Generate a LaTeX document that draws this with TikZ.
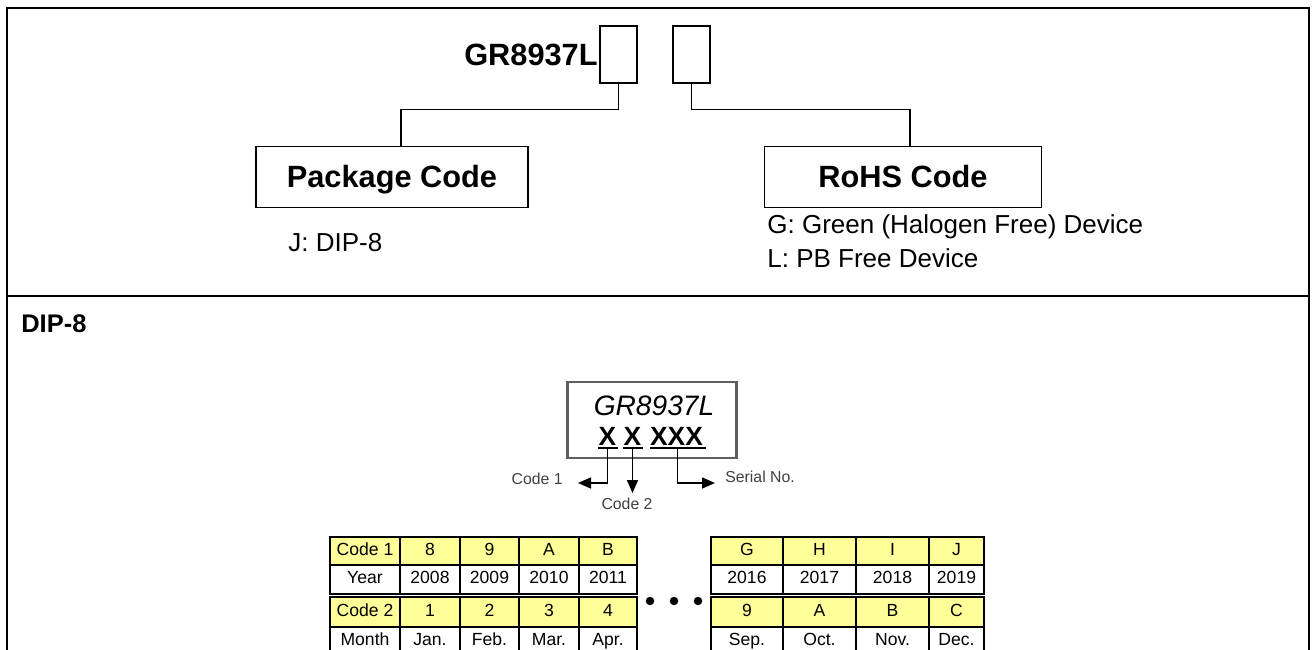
\documentclass[tikz,border=0pt]{standalone}
\usepackage{fontspec}
\setmainfont{Liberation Sans}
\usetikzlibrary{calc}
\usetikzlibrary{math}
\usetikzlibrary{positioning}
\usetikzlibrary{arrows.meta}
\definecolor{CodeYellow}{RGB}{255,255,153}
\definecolor{MarkGray}{RGB}{95,95,95}

\begin{document}
\begin{tikzpicture}[x=0.2mm, y=-0.2mm,
    codebox/.style={draw, line width=0.7pt, inner sep=0pt, text height=12.5pt, text depth=0pt,
        minimum height=61*0.2mm, font=\fontsize{17.5}{20}\bfseries\selectfont},
    digitbox/.style={draw, line width=0.7pt, inner sep=0pt, minimum width=37*0.2mm, minimum height=57*0.2mm},
    plain/.style={inner sep=0pt, anchor=base west, font=\fontsize{14.8}{17}\selectfont},
    cell/.style={draw, line width=1.3pt, inner sep=0pt, text height=7pt, text depth=2pt,
        font=\fontsize{10}{12}\selectfont},
    ycell/.style={cell, fill=CodeYellow},
    small/.style={inner sep=0pt, text=black!75, font=\fontsize{9}{11}\selectfont},
    marker/.style={-{Triangle[length=2.6mm, width=2.2mm]}, line width=0.9pt},
]
    \tikzmath {
        \frameL = 7;
        \frameR = 1309;
        \frameT = 8;
        \split = 296;
        \rowA = 551;
        \rowB = 579.5;
        \rowC = 612;
        \rowD = 641.5;
    }

    \useasboundingbox (0,0) rectangle (1313,650);
    \clip (0,0) rectangle (1313,650);

    % frame
    \draw[line width=1.6pt] (\frameL,680) -- (\frameL,\frameT) -- (\frameR,\frameT) -- (\frameR,680);
    \draw[line width=1.6pt] (\frameL,\split) -- (\frameR,\split);

    % ordering code
    \node[anchor=east, inner sep=0pt, font=\fontsize{17.5}{20}\bfseries\selectfont] (part) at (598,55) {GR8937L};
    \node[digitbox] (pkgdigit) at (618.5,54.5) {};
    \node[digitbox] (rohsdigit) at (691.5,54.5) {};

    \node[codebox, minimum width=272*0.2mm] (pkg) at (392,177) {Package Code};
    \node[codebox, minimum width=277*0.2mm] (rohs) at (903,177) {RoHS Code};

    \coordinate (pkgin) at ($(pkg.north) + (9,0)$);
    \coordinate (rohsin) at ($(rohs.north) + (7,0)$);
    \draw[line width=0.7pt] (pkgdigit.south) -- ++(0,26) -| (pkgin);
    \draw[line width=0.7pt] (rohsdigit.south) -- ++(0,26) -| (rohsin);

    \node[plain] (pkgJ) at (288,251) {J: DIP-8};
    \node[plain] (rohsG) at (767,233) {G: Green (Halogen Free) Device};
    \node[plain] (rohsL) at (767,267) {L: PB Free Device};

    % marking
    \node[inner sep=0pt, anchor=base west, font=\fontsize{14.5}{17}\bfseries\selectfont] (dip) at (21,332) {DIP-8};

    \node[draw=MarkGray, line width=1.2pt, minimum width=169*0.2mm, minimum height=76*0.2mm] (mark) at (652,420) {};
    \node[inner sep=0pt, anchor=base, font=\fontsize{16}{18}\itshape\selectfont] (markpart) at (654,415) {GR8937L};
    \node[inner sep=0pt, anchor=base, font=\fontsize{15}{18}\bfseries\selectfont] (x1) at (607.5,445) {X};
    \node[inner sep=0pt, anchor=base, font=\fontsize{15}{18}\bfseries\selectfont] (x2) at (632.5,445) {X};
    \node[inner sep=0pt, anchor=base, font=\fontsize{15}{18}\bfseries\selectfont] (x3) at (676.5,445) {XXX};

    \coordinate (u1) at (607.5,448);
    \coordinate (u2) at (632.5,448);
    \coordinate (u3) at (677.5,448);
    \draw[line width=0.9pt] ($(u1) - (10,0)$) -- ($(u1) + (10,0)$);
    \draw[line width=0.9pt] ($(u2) - (10,0)$) -- ($(u2) + (10,0)$);
    \draw[line width=0.9pt] ($(u3) - (28,0)$) -- ($(u3) + (28,0)$);

    \node[small, anchor=east] (code1) at (563,479) {Code 1};
    \node[small] (code2) at (627,504) {Code 2};
    \node[small, anchor=west] (serial) at (725,477) {Serial No.};

    \coordinate (tip1) at (578,483);
    \coordinate (tip2) at (632.5,493);
    \coordinate (tip3) at (715,483);
    \draw[marker] (u1) |- (tip1);
    \draw[marker] (u2) -- (tip2);
    \draw[marker] (u3) |- (tip3);

    % code tables
    \foreach \xl/\xr/\ca/\ya/\cb/\mb [count=\c] in {330/400/Code 1/Year/Code 2/Month,
            400/460/8/2008/1/Jan., 460/519/9/2009/2/Feb., 519/579/A/2010/3/Mar., 579/637/B/2011/4/Apr.}
    {
        \node[ycell, minimum width=(\xr-\xl)*0.2mm, minimum height=28*0.2mm] (L1-\c) at ({(\xl+\xr)/2},\rowA) {\ca};
        \node[cell, minimum width=(\xr-\xl)*0.2mm, minimum height=29*0.2mm] (L2-\c) at ({(\xl+\xr)/2},\rowB) {\ya};
        \node[ycell, minimum width=(\xr-\xl)*0.2mm, minimum height=30*0.2mm] (L3-\c) at ({(\xl+\xr)/2},\rowC) {\cb};
        \node[cell, minimum width=(\xr-\xl)*0.2mm, minimum height=29*0.2mm] (L4-\c) at ({(\xl+\xr)/2},\rowD) {\mb};
    }

    \foreach \xl/\xr/\ca/\ya/\cb/\mb [count=\c] in {711/783/G/2016/9/Sep., 783/856/H/2017/A/Oct.,
            856/929/I/2018/B/Nov., 929/984/J/2019/C/Dec.}
    {
        \node[ycell, minimum width=(\xr-\xl)*0.2mm, minimum height=28*0.2mm] (R1-\c) at ({(\xl+\xr)/2},\rowA) {\ca};
        \node[cell, minimum width=(\xr-\xl)*0.2mm, minimum height=29*0.2mm] (R2-\c) at ({(\xl+\xr)/2},\rowB) {\ya};
        \node[ycell, minimum width=(\xr-\xl)*0.2mm, minimum height=30*0.2mm] (R3-\c) at ({(\xl+\xr)/2},\rowC) {\cb};
        \node[cell, minimum width=(\xr-\xl)*0.2mm, minimum height=29*0.2mm] (R4-\c) at ({(\xl+\xr)/2},\rowD) {\mb};
    }

    \foreach \x [count=\i] in {650,674,698}
    {
        \node[circle, fill, inner sep=0pt, minimum size=1.7mm] (dot\i) at (\x,601) {};
    }

\end{tikzpicture}
\end{document}
